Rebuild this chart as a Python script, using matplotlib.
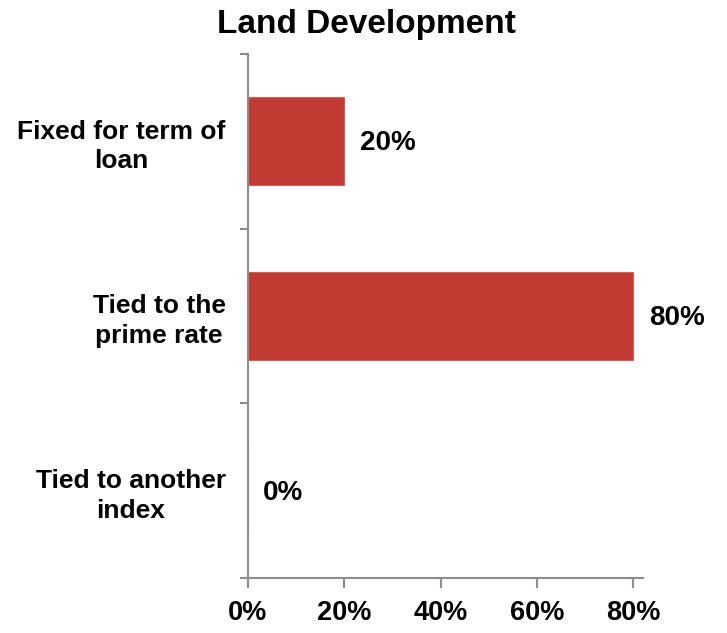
import matplotlib.pyplot as plt
import numpy as np

plt.rcParams['font.family'] = ['Liberation Sans', 'DejaVu Sans']
plt.rcParams['font.weight'] = 'bold'

categories = ['Fixed for term of\nloan', 'Tied to the\nprime rate', 'Tied to another\nindex']
values = [20, 80, 0]
xticks = [0, 20, 40, 60, 80]

bar_color = '#C23B33'
axis_color = '#8C8C8C'

fig = plt.figure(figsize=(7.27, 6.33), dpi=100)
ax = fig.add_axes([0.341, 0.087, 0.5435, 0.828])

y = np.arange(len(categories))
ax.barh(y, values, height=0.5, color=bar_color, edgecolor='#D06058', linewidth=0.8)
ax.set_ylim(len(categories) - 0.5, -0.5)
ax.set_xlim(0, 82)

# data labels to the right of each bar
for yi, v in zip(y, values):
    ax.annotate(f'{v}%', (v, yi), xytext=(11, -1.5), textcoords='offset points',
                va='center', ha='left', fontsize=20, fontweight='bold')

ax.set_yticks(y)
ax.set_yticklabels(categories, fontsize=19, fontweight='bold', ha='right',
                   multialignment='center', linespacing=1.3)
ax.tick_params(axis='y', which='major', length=0, pad=16)
ax.set_yticks(np.arange(len(categories) + 1) - 0.5, minor=True)
ax.tick_params(axis='y', which='minor', length=6, width=1.5, color=axis_color, direction='out')

ax.set_xticks(xticks)
ax.set_xticklabels([f'{t}%' for t in xticks], fontsize=19.5, fontweight='bold')
ax.tick_params(axis='x', length=7, width=1.5, color=axis_color, direction='out', pad=9)

for s in ['top', 'right']:
    ax.spines[s].set_visible(False)
for s in ['left', 'bottom']:
    ax.spines[s].set_color(axis_color)
    ax.spines[s].set_linewidth(1.5)

fig.text(0.504, 0.962, 'Land Development', ha='center', va='center',
         fontsize=24, fontweight='bold')

fig.savefig('out.png', dpi=100)
